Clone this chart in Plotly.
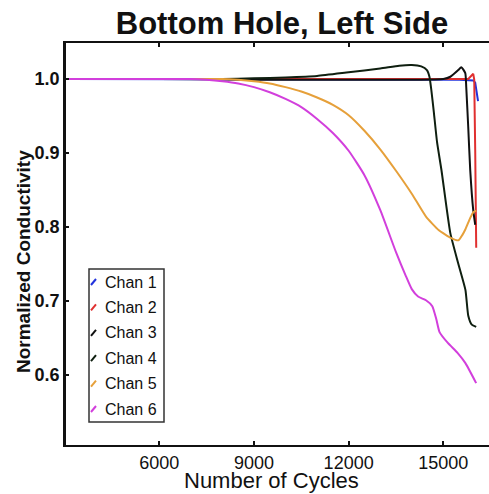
import plotly.graph_objects as go

# Normalized conductivity vs. number of cycles, six channels
chan1_x = [3050, 6000, 9000, 12000, 14000, 15500, 15950, 16010, 16100]
chan1_y = [1.000, 1.000, 1.000, 0.999, 0.999, 0.999, 0.998, 0.995, 0.970]

chan2_x = [3050, 6000, 9000, 12000, 15000, 15790, 15948, 15979, 16010, 16042]
chan2_y = [1.000, 1.000, 1.000, 0.999, 0.999, 1.000, 1.007, 0.999, 0.904, 0.772]

chan3_x = [3050, 6000, 9000, 12000, 14000, 15000, 15221, 15474, 15568, 15695,
           15726, 15789, 15852, 15947, 16010]
chan3_y = [1.000, 1.000, 0.999, 0.999, 0.999, 1.000, 1.003, 1.012, 1.016, 1.008,
           0.989, 0.935, 0.877, 0.823, 0.803]

chan4_x = [3050, 6000, 8000, 9000, 10000, 11000, 12000, 13000, 13600, 14000,
           14300, 14480, 14560, 14620, 14700, 14800, 14940, 15220, 15470, 15700,
           15790, 15900, 16042]
chan4_y = [1.000, 1.000, 1.000, 1.001, 1.002, 1.004, 1.009, 1.014, 1.018, 1.019,
           1.017, 1.012, 1.003, 0.985, 0.955, 0.915, 0.877, 0.792, 0.751, 0.715,
           0.680, 0.668, 0.665]

chan5_x = [3050, 6000, 8000, 8500, 9000, 9500, 10000, 10500, 11000, 11500,
           12000, 12500, 13000, 13500, 14000, 14450, 14850, 15250, 15480, 15600,
           15700, 15850, 15950, 16042]
chan5_y = [1.000, 1.000, 1.000, 0.999, 0.997, 0.994, 0.989, 0.983, 0.975, 0.965,
           0.951, 0.930, 0.905, 0.876, 0.845, 0.814, 0.796, 0.785, 0.782, 0.789,
           0.797, 0.812, 0.820, 0.822]

chan6_x = [3050, 6000, 7000, 7500, 8000, 8500, 9000, 9500, 10000, 10500,
           11000, 11500, 12000, 12500, 13000, 13500, 13800, 14000, 14200, 14450,
           14650, 14780, 14880, 15150, 15450, 15700, 16040]
chan6_y = [1.000, 1.000, 1.000, 0.999, 0.997, 0.994, 0.989, 0.982, 0.973, 0.962,
           0.946, 0.927, 0.903, 0.870, 0.823, 0.766, 0.735, 0.716, 0.706, 0.701,
           0.693, 0.675, 0.658, 0.643, 0.630, 0.616, 0.589]

names = ["Chan 1", "Chan 2", "Chan 3", "Chan 4", "Chan 5", "Chan 6"]
colors = ["#2233dd", "#e03030", "#111111", "#0f1f10", "#e6a03a", "#d23fdc"]
shapes_line = ["linear", "linear", "spline", "spline", "spline", "spline"]
series = [(chan1_x, chan1_y), (chan2_x, chan2_y), (chan3_x, chan3_y),
          (chan4_x, chan4_y), (chan5_x, chan5_y), (chan6_x, chan6_y)]

x_ticks = [6000, 9000, 12000, 15000]
y_ticks = [0.6, 0.7, 0.8, 0.9, 1.0]

W, H = 489, 494
L, R, T, B = 66, 0, 43, 49
FONT = "Liberation Sans, Arial"

fig = go.Figure()
for name, color, shp, (xs, ys) in zip(names, colors, shapes_line, series):
    fig.add_trace(go.Scatter(x=xs, y=ys, mode="lines", name=name,
                             line=dict(color=color, width=2, shape=shp, smoothing=0.5),
                             showlegend=False))

# Compact legend box drawn in paper coordinates
pw, ph = W - L - R, H - T - B
def px_x(p):
    return (p - L) / pw
def px_y(p):
    return (H - B - p) / ph

shapes = [dict(type="rect", xref="paper", yref="paper",
               x0=px_x(89), x1=px_x(164), y0=px_y(422), y1=px_y(269),
               line=dict(color="#333333", width=1.5), fillcolor="white")]
annotations = []
for i, (name, color) in enumerate(zip(names, colors)):
    cy = 282 + 25.4 * i
    shapes.append(dict(type="line", xref="paper", yref="paper",
                       x0=px_x(91), x1=px_x(96), y0=px_y(cy + 3), y1=px_y(cy - 3),
                       line=dict(color=color, width=2)))
    annotations.append(dict(xref="paper", yref="paper", x=px_x(103), y=px_y(cy),
                            xanchor="left", yanchor="middle", showarrow=False,
                            text=name, font=dict(family=FONT, size=16, color="#111111")))

# Axis titles
annotations.append(dict(xref="paper", yref="paper", x=px_x(271), y=px_y(480),
                        xanchor="center", yanchor="middle", showarrow=False,
                        text="Number of Cycles",
                        font=dict(family=FONT, size=22, color="#111111")))
annotations.append(dict(xref="paper", yref="paper", x=px_x(23), y=px_y(262),
                        xanchor="center", yanchor="middle", showarrow=False,
                        textangle=-90, text="<b>Normalized Conductivity</b>",
                        font=dict(family=FONT, size=19, color="#111111")))

fig.update_layout(
    width=W, height=H,
    margin=dict(l=L, r=R, t=T, b=B),
    paper_bgcolor="white", plot_bgcolor="white",
    title=dict(text="<b>Bottom Hole, Left Side</b>", x=282 / W, xref="container",
               xanchor="center", y=1 - 23 / H, yref="container", yanchor="middle",
               font=dict(family=FONT, size=31, color="#111111")),
    shapes=shapes, annotations=annotations,
    showlegend=False,
)
fig.update_xaxes(
    range=[3044, 16447], tickvals=x_ticks, ticktext=[str(v) for v in x_ticks],
    showgrid=False, zeroline=False,
    showline=True, linecolor="#111111", linewidth=2, mirror="ticks",
    ticks="inside", ticklen=4, tickwidth=1.5, tickcolor="#111111",
    tickfont=dict(family=FONT, size=18, color="#111111"),
)
fig.update_yaxes(
    range=[0.5054, 1.0486], tickvals=y_ticks, ticktext=["<b>%.1f</b>" % v for v in y_ticks],
    showgrid=False, zeroline=False,
    showline=True, linecolor="#111111", linewidth=2.5, mirror=False,
    ticks="inside", ticklen=3, tickwidth=1.5, tickcolor="#111111",
    tickfont=dict(family=FONT, size=18, color="#111111"),
)

fig.write_html("out.html")
